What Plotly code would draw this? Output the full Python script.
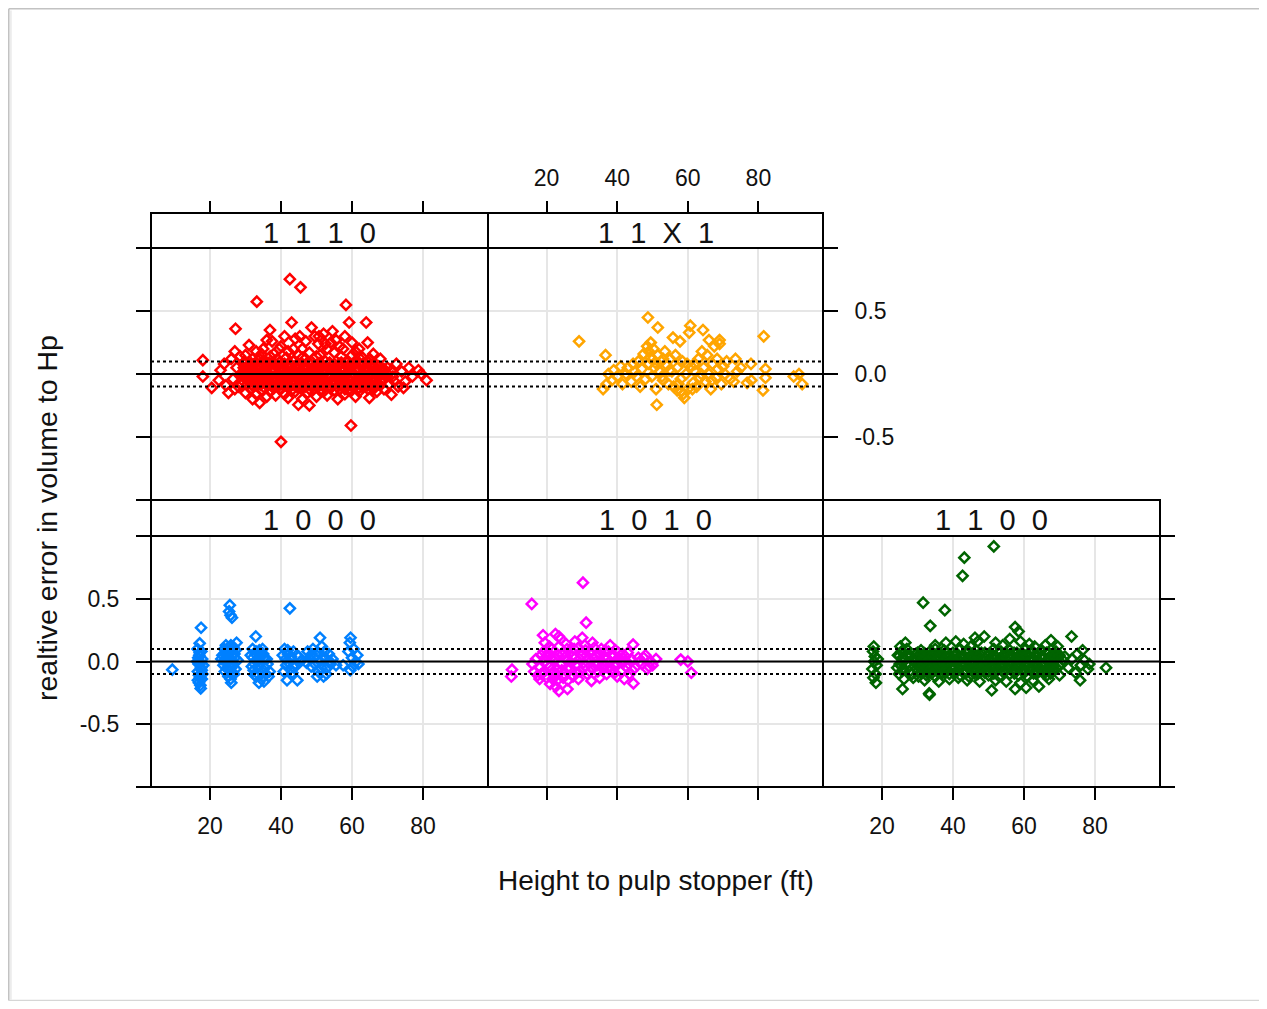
import plotly.graph_objects as go

# ---------------- data ----------------
X_TICKS = [20, 40, 60, 80]
Y_TICKS = [-1, -0.5, 0, 0.5, 1]
Y_TICK_TEXT = ["", "-0.5", "0.0", "0.5", ""]
X_TITLE = "Height to pulp stopper (ft)"
Y_TITLE = "realtive error in volume to Hp"
REF_LINES = [0.0]
BAND_LINES = [-0.1, 0.1]

PTS_1110 = [
    (18, 0.11), (18, -0.02), (20.5, -0.11), (23, 0.03), (22.5, -0.05), (24, 0.08), (25.2, -0.15),
    (24.5, -0.09), (26, 0.12), (27.2, 0.36), (26.5, -0.04), (27.5, 0.05), (28, -0.1), (28.5, 0.14),
    (29, -0.01), (29.5, 0.09),
    (31, 0.23), (33.2, 0.576), (36.9, 0.35), (33, 0.18), (35, 0.2), (38, 0.16), (40, 0.22), (41, 0.3),
    (42.5, 0.755), (45.5, 0.69), (43, 0.41), (44, 0.28), (46, 0.2), (47, 0.26), (48.6, 0.37),
    (49.5, 0.3), (50.5, 0.24), (52, 0.32), (53, 0.2), (54.5, 0.34), (55.5, 0.27), (56.5, 0.22),
    (58.3, 0.55), (59.2, 0.41), (58, 0.3), (60, 0.25), (61, 0.18), (62, 0.2), (64, 0.41), (64.4, 0.25),
    (66, 0.16), (68, 0.12), (37.5, 0.26), (39, 0.12), (42, 0.18), (45, 0.15), (51, 0.15), (57, 0.14),
    (63, 0.13), (34, 0.12), (36, 0.09),
    (30, 0.15), (32, 0.12), (34.5, 0.16), (37, 0.14), (39.5, 0.2), (41.5, 0.13), (43.5, 0.2),
    (46, 0.13), (48, 0.17), (50, 0.14), (52.5, 0.24), (55, 0.17), (57.5, 0.2), (60, 0.15),
    (62, 0.13), (65, 0.12), (27, 0.18), (36, 0.27), (45.3, 0.3), (50.7, 0.3), (54, 0.25),
    (40, -0.54), (59.7, -0.41), (44.9, -0.245), (48, -0.25), (34, -0.23), (30, -0.15), (32, -0.2),
    (36, -0.18), (38.5, -0.17), (42, -0.19), (46, -0.2), (50, -0.18), (53, -0.17), (56, -0.2),
    (58, -0.16), (61, -0.18), (64.9, -0.19), (67, -0.14), (71.1, -0.165), (69, -0.12), (73, -0.1),
    (27, -0.12), (29, -0.08), (33, -0.16), (37, -0.14), (41, -0.16), (44, -0.14), (47.5, -0.15),
    (52, -0.14), (55, -0.13), (58, -0.12), (62, -0.14), (66, -0.12), (68, -0.09), (70.5, -0.08),
    (70, 0.05), (71.5, -0.02), (72.5, 0.08), (74, 0.02), (75, -0.06), (76, 0.05), (77, -0.02),
    (78.7, 0.03), (81, -0.05), (79.5, 0.0), (74.5, -0.11), (72, -0.06),
    (30, 0.09), (32.5, 0.08), (35, 0.1), (37, 0.07), (39.5, 0.09), (41, 0.08), (43.5, 0.1), (46, 0.08),
    (48, 0.09), (50, 0.07), (52.5, 0.1), (55, 0.08), (57, 0.09), (59.5, 0.07), (61, 0.1), (63.5, 0.08),
    (66, 0.07),
    (31.6, 0.085), (34.3, 0.085), (36.7, 0.09), (38.1, 0.085), (42.3, 0.09), (44.8, 0.085),
    (47.6, 0.09), (50.6, 0.085), (53.7, 0.09), (56.7, 0.085), (58.6, 0.09), (62.2, 0.085), (64.7, 0.09),
    (31, 0.07), (33.8, 0.07), (36.2, 0.06), (38.8, 0.07), (40.2, 0.06), (42.8, 0.07), (45, 0.06),
    (47.2, 0.07), (49.5, 0.06), (51.8, 0.07), (54, 0.06), (56.2, 0.07), (58.7, 0.06), (60.5, 0.07),
    (62.8, 0.06), (65, 0.07), (67.5, 0.06),
    (29.5, 0.05), (31.5, 0.04), (33.5, 0.06), (36, 0.05), (38, 0.03), (40, 0.05), (42, 0.06),
    (44.5, 0.04), (46.5, 0.05), (49, 0.03), (51, 0.06), (53.5, 0.04), (55.5, 0.05), (58, 0.03),
    (60, 0.06), (62, 0.04), (64.5, 0.05), (67, 0.03), (69, 0.04),
    (30.8, 0.045), (33.1, 0.045), (35.6, 0.04), (37.9, 0.045), (40.6, 0.04), (42.4, 0.045),
    (44.9, 0.04), (47.4, 0.045), (49.7, 0.04), (52.2, 0.045), (54.6, 0.04), (56.9, 0.045),
    (59.3, 0.04), (61.4, 0.045), (63.2, 0.04), (65.8, 0.045), (68.3, 0.04),
    (30.2, 0.025), (32.8, 0.02), (34.8, 0.03), (37, 0.025), (39.7, 0.02), (41, 0.03), (43.8, 0.025),
    (45.9, 0.02), (48.2, 0.03), (50.5, 0.025), (52.8, 0.02), (54.9, 0.03), (57.3, 0.025), (59.1, 0.02),
    (61.7, 0.03), (63.9, 0.025), (66.1, 0.02), (68.5, 0.03), (71, 0.025),
    (29, 0.0), (31, 0.01), (33, -0.01), (35, 0.0), (37.5, 0.02), (39, -0.01), (41.5, 0.01), (43, 0.0),
    (45.5, -0.01), (47.5, 0.01), (50, 0.0), (52, 0.02), (54, -0.01), (56.5, 0.0), (58.5, 0.01),
    (61, -0.01), (63, 0.0), (65.5, 0.01), (68, -0.01), (70, 0.0),
    (30.1, -0.005), (32.4, -0.005), (34.6, -0.01), (36.9, -0.005), (39.6, -0.01), (41.9, -0.005),
    (44.2, -0.01), (46.4, -0.005), (48.6, -0.01), (51.1, -0.005), (53.4, -0.01), (55.6, -0.005),
    (57.9, -0.01), (60.3, -0.005), (62.6, -0.01), (64.9, -0.005), (67.4, -0.01), (69.1, -0.005),
    (29.8, -0.02), (32, -0.025), (34.3, -0.02), (36, -0.015), (38.2, -0.02), (40.5, -0.025),
    (42.2, -0.02), (44.3, -0.015), (46.8, -0.02), (48.8, -0.025), (51.2, -0.02), (53, -0.015),
    (55.3, -0.02), (57.8, -0.025), (59.6, -0.02), (62.2, -0.015), (64.7, -0.02), (67.2, -0.025),
    (69.7, -0.02),
    (30, -0.04), (32, -0.05), (34, -0.03), (36.5, -0.04), (38.5, -0.05), (40.5, -0.03), (42.5, -0.04),
    (45, -0.05), (47, -0.03), (49.5, -0.04), (51.5, -0.05), (53.5, -0.03), (56, -0.04), (57.5, -0.05),
    (60, -0.03), (62.5, -0.04), (64, -0.05), (66.5, -0.03), (69, -0.04),
    (31.3, -0.045), (33.4, -0.045), (35.2, -0.05), (37.8, -0.045), (39.9, -0.05), (41.6, -0.045),
    (44, -0.05), (46.2, -0.045), (48.3, -0.05), (50.8, -0.045), (52.6, -0.05), (55, -0.045),
    (57.1, -0.05), (59.4, -0.045), (61.6, -0.05), (63.8, -0.045), (65.9, -0.05), (68.4, -0.045),
    (31.2, -0.06), (33.6, -0.065), (35.9, -0.06), (38, -0.055), (40.8, -0.06), (43, -0.065),
    (45.4, -0.06), (47.6, -0.055), (49.8, -0.06), (52, -0.065), (54.4, -0.06), (56.7, -0.055),
    (58.4, -0.06), (60.7, -0.065), (62.9, -0.06), (65.7, -0.055), (68.2, -0.06),
    (30.5, -0.08), (33, -0.09), (35.5, -0.07), (37, -0.08), (39.5, -0.09), (41.5, -0.08), (44, -0.07),
    (46, -0.09), (48.5, -0.08), (50.5, -0.07), (52.5, -0.09), (55, -0.08), (57, -0.07), (59, -0.09),
    (61.5, -0.08), (63.5, -0.07), (65, -0.09), (67.5, -0.08),
    (31.9, -0.085), (34.2, -0.085), (36.4, -0.09), (38.7, -0.085), (40.7, -0.09), (43.4, -0.085),
    (45.7, -0.09), (47.9, -0.085), (50.1, -0.09), (52.3, -0.085), (54.7, -0.09), (56.9, -0.085),
    (59.7, -0.09), (62.4, -0.085), (64.3, -0.09), (66.7, -0.085),
    (32.2, -0.1), (35.2, -0.105), (37.5, -0.1), (39.2, -0.095), (41.8, -0.1), (44.6, -0.105),
    (46.8, -0.1), (49.2, -0.095), (52, -0.1), (53.8, -0.105), (55.8, -0.1), (58, -0.095),
    (60.3, -0.1), (63, -0.105), (66, -0.1),
    (31.5, -0.12), (34.5, -0.13), (38, -0.11), (40, -0.12), (43, -0.13), (45.5, -0.11), (48, -0.12),
    (51, -0.13), (54, -0.11), (56.5, -0.12), (59, -0.13), (62, -0.11), (64.5, -0.12),
]

PTS_11X1 = [
    (29.2, 0.26), (36.7, 0.15), (36, -0.12), (37, -0.08), (37.5, 0.0), (38.5, -0.05), (39, 0.03),
    (40, -0.02), (41, 0.06), (41.5, -0.08), (42.5, 0.0), (43, 0.05), (44, -0.06), (44.5, 0.08),
    (45.5, -0.02), (46, 0.1), (46.5, -0.1), (47, 0.04), (47.5, 0.16), (48, -0.04), (48.7, 0.45),
    (48.5, 0.22), (49, 0.18), (49, 0.08), (49.5, 0.25), (49.8, -0.02), (50, 0.12), (50.3, 0.2),
    (50.5, 0.05), (51, -0.12), (51.2, -0.245), (51.5, 0.37), (51.5, 0.15), (52, 0.02), (52.5, 0.1),
    (53, -0.05), (53.5, 0.18), (54, 0.07), (54.5, -0.08), (55, 0.12), (55.5, 0.02), (55.8, 0.29),
    (56, -0.1), (56.5, 0.15), (57, 0.05), (57.8, 0.26), (58, -0.04), (58.5, 0.1), (58.7, -0.16),
    (59, -0.19), (59.5, 0.0), (60, -0.12), (60.4, 0.33), (60.7, 0.385), (61, 0.06), (61.5, -0.07),
    (62, 0.02), (62.5, -0.1), (63, 0.12), (63.5, -0.03), (64, 0.18), (64.3, 0.35), (64.5, 0.05),
    (65, -0.06), (65.5, 0.15), (66, 0.27), (66, 0.0), (66.5, -0.12), (67, 0.08), (67.5, 0.22),
    (68, -0.03), (68.5, 0.04), (69, 0.27), (69, 0.24), (69.5, -0.08), (70, 0.06), (70.5, 0.0),
    (71, 0.1), (72, -0.04), (73, -0.06), (73.5, 0.12), (74, 0.02), (75, 0.05), (76.8, -0.07),
    (77.9, 0.08), (78, -0.05), (81.3, -0.13), (81.5, 0.3), (82, 0.04), (82, -0.03), (90, -0.02),
    (91.5, 0.0), (92.4, -0.08), (62, 0.08), (57, -0.13), (53, 0.12), (45, 0.02),
    (49.3, 0.13), (50.8, 0.09), (52.7, -0.02), (54.8, 0.03), (57.3, -0.08), (59.8, 0.08),
    (61.3, -0.12), (63.8, 0.0), (66.8, -0.05), (68.3, 0.12), (58.2, -0.14),
]

PTS_1000 = [
    (9.4, -0.065), (17.5, 0.27), (17.1, 0.145), (17.4, -0.215), (16.5, 0.1), (17, 0.05), (17.8, 0.02),
    (16.8, -0.02), (17.5, -0.05), (16.6, -0.08), (17.9, -0.1), (17.2, -0.13), (16.9, -0.17),
    (17.6, 0.08), (18.1, -0.03), (17.3, -0.19), (16.4, 0.0), (17.7, -0.14),
    (16.7, 0.03), (17.4, -0.01), (16.9, -0.11), (17.7, -0.07), (17.1, 0.07), (16.6, -0.15),
    (25.6, 0.45), (25.4, 0.4), (25.8, 0.37), (26.2, 0.35), (23.5, 0.05), (24, 0.1), (24.5, 0.13),
    (25, 0.0), (25.5, 0.08), (26, -0.05), (26.5, 0.12), (27, 0.03), (27.5, 0.15), (24.2, -0.08),
    (25.2, -0.12), (26, -0.17), (25.8, -0.14), (24.8, 0.04), (23.8, -0.03), (26.8, -0.1),
    (27.2, -0.06), (25.3, 0.06), (24.6, -0.01), (26.3, 0.09), (27.8, 0.01), (23.2, 0.02),
    (24.3, 0.07), (25.1, 0.11), (25.9, 0.02), (26.6, -0.02), (24.9, -0.05), (25.6, -0.08),
    (26.4, 0.05), (27.3, 0.09), (24.1, 0.01), (25.4, -0.03), (26.9, 0.06), (25.9, 0.13),
    (26.1, -0.1), (24.6, 0.09),
    (32.9, 0.2), (31.5, 0.05), (32, 0.1), (32.5, -0.02), (33, 0.08), (33.5, -0.1), (34, 0.03),
    (34.5, -0.14), (35, 0.06), (35.5, -0.05), (36, 0.02), (36.5, -0.12), (33.8, -0.17), (32.3, -0.07),
    (34.8, 0.1), (31.8, -0.04), (33.3, 0.0), (36.8, -0.08), (35.2, -0.16), (34.2, 0.07),
    (32.1, 0.03), (32.8, 0.06), (33.6, -0.04), (34.4, -0.01), (35.3, 0.02), (33.1, -0.12),
    (34.6, -0.08), (35.8, -0.1), (33.9, 0.09), (32.6, -0.11), (36.2, -0.02), (34.9, -0.12),
    (42.5, 0.425), (40.5, 0.05), (41, 0.1), (41.5, -0.03), (42, 0.06), (42.5, -0.06), (43, 0.02),
    (43.5, 0.08), (44, -0.02), (44.6, -0.15), (41.7, -0.15), (45, 0.04), (40.8, -0.08), (43.7, -0.05),
    (45.5, 0.0), (41.3, 0.02), (42.2, -0.01), (43.2, -0.09), (41.9, 0.09), (44.4, 0.05), (42.8, 0.04),
    (51, 0.19), (47.5, 0.08), (48, 0.03), (48.5, -0.04), (49, 0.1), (49.5, -0.02), (50, 0.05),
    (50.5, -0.08), (51, 0.0), (51.5, 0.12), (52, -0.12), (52.5, 0.03), (53, -0.05), (53.5, 0.06),
    (54, -0.02), (54.5, 0.02), (55.5, -0.03), (50.2, -0.12), (52.8, -0.1), (47.2, -0.01),
    (49.2, 0.03), (50.6, 0.07), (51.3, -0.05), (52.3, 0.08), (53.8, 0.0), (48.7, 0.06), (51.8, 0.04),
    (59.6, 0.19), (59.4, 0.15), (61.5, 0.05), (59.5, -0.07), (61, -0.005), (57.5, -0.03), (60, 0.03),
    (60.5, 0.1), (59, 0.08), (60.2, -0.04), (61.8, -0.02),
]

PTS_1010 = [
    (30.3, 0.63), (15.8, 0.46), (31.2, 0.31), (19, 0.21), (22.5, 0.22), (23.5, 0.2), (30.1, 0.19),
    (20.8, 0.12), (44.5, 0.135), (10.2, -0.065), (10, -0.12), (58, 0.015), (60, 0.0), (61, -0.09),
    (23.5, -0.235), (25.9, -0.22), (22.6, -0.2), (44.6, -0.175), (42, -0.14), (32.7, -0.155),
    (16, -0.02), (16.5, -0.08), (17, 0.02), (17.5, -0.11), (18, -0.05), (18.5, 0.05), (19, -0.09),
    (19.5, 0.0), (20, -0.13), (20.5, 0.07), (21, -0.04), (21.5, 0.1), (22, -0.08), (22.5, 0.02),
    (23, -0.15), (23.5, 0.12), (24, -0.02), (24.5, 0.06), (25, -0.1), (25.5, 0.14), (26, 0.01),
    (26.5, -0.06), (27, 0.08), (27.5, -0.12), (28, 0.03), (28.5, -0.03), (29, 0.11), (29.5, -0.08),
    (30, 0.05), (30.5, -0.01), (31, 0.09), (31.5, -0.1), (32, 0.02), (32.5, 0.07), (33, -0.05),
    (33.5, 0.11), (34, 0.0), (34.5, -0.08), (35, 0.06), (35.5, 0.1), (36, -0.03), (36.5, 0.04),
    (37, -0.1), (37.5, 0.08), (38, 0.0), (38.5, -0.06), (39, 0.05), (39.5, 0.09), (40, -0.02),
    (40.5, 0.03), (41, -0.08), (41.5, 0.06), (42, 0.0), (42.5, -0.04), (43, 0.07), (43.5, -0.1),
    (44, 0.02), (45, -0.05), (46, 0.03), (47, -0.02), (48, 0.05), (48.5, -0.06), (49.5, 0.0),
    (50, -0.03), (51, 0.02), (19.5, 0.15), (24, 0.18), (28, 0.16), (33, 0.15), (38, 0.13),
    (26, -0.15), (29, -0.14), (35, -0.13), (40, -0.12), (21, -0.18), (18, -0.14), (22, 0.0),
    (25, 0.03), (27, -0.01), (31, -0.04), (34, 0.04), (37, 0.02), (20, 0.04), (23, -0.06),
    (36, -0.06), (39, -0.03),
    (20.2, -0.02), (21.3, 0.03), (22.3, -0.11), (23.3, 0.05), (24.3, -0.07), (25.3, 0.07),
    (26.3, -0.04), (27.3, 0.04), (28.3, -0.09), (29.3, 0.02), (30.3, -0.05), (31.3, 0.05),
    (32.3, -0.08), (33.3, 0.03), (34.3, -0.03), (35.3, 0.01), (36.3, 0.08), (37.3, -0.05),
    (38.3, 0.05), (39.3, -0.09), (40.3, 0.07), (41.3, 0.0), (42.3, 0.04), (43.3, -0.02),
    (44.3, -0.07), (46.5, 0.0), (47.5, 0.03), (49, -0.04), (18.5, -0.1), (19.2, 0.08),
    (21.7, -0.14), (24.7, -0.13), (27.8, 0.1), (30.8, 0.13), (25.8, 0.1),
]

PTS_1100 = [
    (51.5, 0.92), (43.2, 0.83), (42.7, 0.685), (31.6, 0.47), (37.7, 0.41), (33.6, 0.285), (57.5, 0.275),
    (73.4, 0.2), (58.5, 0.24), (48.8, 0.2), (46.2, 0.19), (40.8, 0.16), (67.6, 0.17), (26.6, 0.15),
    (17.7, 0.12), (18.3, -0.17), (25.8, -0.22), (33.3, -0.255), (33.4, -0.265), (50.9, -0.23),
    (57.5, -0.22), (60.6, -0.21), (64.2, -0.2), (75.8, -0.15), (83.1, -0.05), (78.4, -0.02),
    (41.5, -0.13), (30.3, -0.12),
    (17.5, 0.08), (18, 0.04), (17.8, 0.0), (18.5, -0.03), (17.3, -0.06), (18.2, -0.1), (18.8, 0.02),
    (17.6, -0.13),
    (24.5, 0.05), (25, -0.02), (25.5, 0.08), (26, -0.06), (26.5, 0.02), (27, 0.1), (27.5, -0.04),
    (28, 0.04), (28.5, -0.1), (29, 0.0), (29.5, 0.06), (24.8, -0.1), (26.2, -0.14), (27.8, -0.08),
    (25.2, 0.12), (28.8, -0.13), (25.8, 0.03), (26.8, -0.02), (27.3, 0.06), (24.3, -0.05),
    (31, 0.09), (33.5, 0.08), (35, 0.1), (37.5, 0.09), (40, 0.07), (42, 0.1), (44.5, 0.08),
    (46.5, 0.09), (49, 0.07), (51.5, 0.1), (53.5, 0.08), (56, 0.09), (58, 0.07), (60.5, 0.1),
    (62.5, 0.08), (65, 0.09), (67, 0.07), (69, 0.08),
    (30, 0.07), (32, 0.065), (34.2, 0.07), (36.5, 0.065), (38.5, 0.07), (41, 0.065), (43.5, 0.07),
    (45.8, 0.065), (48, 0.07), (50.5, 0.065), (52.8, 0.07), (55, 0.065), (57.2, 0.07), (59.5, 0.065),
    (61.8, 0.07), (64, 0.065), (66.3, 0.07), (68.5, 0.065),
    (30.5, 0.05), (32.5, 0.04), (34.5, 0.06), (36.5, 0.05), (39, 0.04), (41, 0.06), (43, 0.05),
    (45, 0.04), (47.5, 0.06), (50, 0.05), (52, 0.04), (54.5, 0.06), (56.5, 0.05), (59, 0.04),
    (61, 0.06), (63.5, 0.05), (65.5, 0.04), (68, 0.06), (70, 0.05),
    (24.9, 0.045), (26.9, 0.045), (31.4, 0.045), (33.4, 0.04), (35.8, 0.045), (37.9, 0.04),
    (40.4, 0.045), (42.6, 0.04), (44.9, 0.045), (47.1, 0.04), (49.6, 0.045), (51.8, 0.04),
    (54, 0.045), (56.1, 0.04), (58.4, 0.045), (60.8, 0.04), (63, 0.045), (65.3, 0.04), (67.6, 0.045),
    (69.8, 0.04),
    (29.5, 0.03), (31.5, 0.025), (33.8, 0.03), (36, 0.025), (38, 0.03), (40, 0.025), (42.3, 0.03),
    (44.6, 0.025), (46.7, 0.03), (49, 0.025), (51, 0.03), (53.3, 0.025), (55.6, 0.03), (57.8, 0.025),
    (60, 0.03), (62.5, 0.025), (64.8, 0.03), (67, 0.025), (69.5, 0.03),
    (31, 0.01), (33, 0.0), (35.5, 0.02), (37.5, 0.01), (39.5, 0.0), (41.5, 0.02), (44, 0.01),
    (46, 0.0), (48, 0.02), (50.5, 0.01), (52.5, 0.0), (55, 0.02), (57.5, 0.01), (59.5, 0.0),
    (62, 0.02), (64, 0.01), (66.5, 0.0), (69, 0.02), (71, 0.01),
    (30.3, -0.01), (32.3, -0.015), (34.5, -0.01), (36.8, -0.015), (39, -0.01), (41, -0.015),
    (43.2, -0.01), (45.5, -0.015), (47.8, -0.01), (50, -0.015), (52.3, -0.01), (54.2, -0.015),
    (56.8, -0.01), (58.8, -0.015), (61, -0.01), (63.3, -0.015), (65.8, -0.01), (68, -0.015),
    (30, -0.03), (32, -0.02), (34, -0.04), (36, -0.03), (38.5, -0.02), (40.5, -0.04), (42.5, -0.03),
    (45, -0.02), (47, -0.04), (49.5, -0.03), (51.5, -0.02), (53.5, -0.04), (56, -0.03), (58, -0.02),
    (60.5, -0.04), (63, -0.03), (65, -0.02), (67.5, -0.04), (70, -0.03),
    (25.4, -0.035), (27.6, -0.035), (31.2, -0.035), (33.6, -0.03), (35.6, -0.035), (37.8, -0.03),
    (40, -0.035), (42.1, -0.03), (44.6, -0.035), (46.9, -0.03), (49, -0.035), (51.3, -0.03),
    (53.7, -0.035), (55.9, -0.03), (58.3, -0.035), (60.9, -0.03), (63.6, -0.035), (65.6, -0.03),
    (68.2, -0.035),
    (30.8, -0.05), (33, -0.055), (35, -0.05), (37.3, -0.055), (39.5, -0.05), (41.8, -0.055),
    (44.2, -0.05), (46.5, -0.055), (48.8, -0.05), (51, -0.055), (53.5, -0.05), (55.8, -0.055),
    (58, -0.05), (60, -0.055), (62.3, -0.05), (64.5, -0.055), (67, -0.05), (69.3, -0.055),
    (31.5, -0.07), (33.5, -0.06), (36, -0.08), (38, -0.07), (40, -0.06), (43, -0.08), (45.5, -0.07),
    (48, -0.06), (50, -0.08), (52.5, -0.07), (55, -0.06), (57, -0.08), (59.5, -0.07), (61.5, -0.06),
    (64, -0.08), (66, -0.07), (68.5, -0.06),
    (25.7, -0.075), (30.2, -0.075), (32.9, -0.08), (35.4, -0.075), (37.6, -0.08), (41.2, -0.075),
    (44, -0.08), (46.8, -0.075), (49.4, -0.08), (51.8, -0.075), (54.6, -0.08), (57.6, -0.075),
    (60.4, -0.08), (63.2, -0.075), (65.6, -0.08), (68, -0.075),
    (31, -0.09), (34, -0.095), (37, -0.09), (40.5, -0.095), (43.5, -0.09), (46, -0.095), (49, -0.09),
    (51.5, -0.095), (54.3, -0.09), (57.3, -0.095), (60, -0.09), (62.7, -0.095), (65.3, -0.09),
    (67.5, -0.095),
    (32.5, -0.11), (35, -0.12), (39, -0.1), (42, -0.11), (44.5, -0.12), (47, -0.1), (50, -0.11),
    (53, -0.12), (56, -0.1), (58.5, -0.11), (61, -0.12), (63.5, -0.1), (66.5, -0.11),
    (71.5, 0.04), (72.5, -0.05), (73.5, 0.02), (74.5, -0.09), (75, 0.06), (76, -0.03), (77, 0.01),
    (78, -0.06), (76.5, 0.09),
    (35, 0.13), (38, 0.15), (43, 0.14), (45, 0.12), (52, 0.15), (54, 0.13), (59, 0.16), (61.5, 0.14),
    (63, 0.12), (66, 0.13), (69.5, 0.12), (47, 0.16), (56, 0.18),
    (32, -0.15), (36, -0.16), (39, -0.14), (44, -0.15), (47.5, -0.16), (52, -0.15), (55, -0.16),
    (59, -0.17), (62.5, -0.15), (67, -0.14), (70, -0.11),
]

STRIP_LABELS = ["1  1  1  0", "1  1  X  1", "1  0  0  0", "1  0  1  0", "1  1  0  0"]
COLORS = ["#ff0000", "#ffa500", "#0080ff", "#ff00ff", "#006400"]
SERIES = [PTS_1110, PTS_11X1, PTS_1000, PTS_1010, PTS_1100]

# ---------------- layout geometry (screen pixels) ----------------
OFF = 8                   # the page body offsets the figure by 8 px
FW, FH = 1251, 993
FONT = "Liberation Sans, Arial, sans-serif"


def fx(p):
    return (p - OFF) / FW


def fy(p):
    return 1 - (p - OFF) / FH


COLS = [(151, 488), (488, 823), (823, 1160)]
ROWS = [(248, 500, 213), (536, 787, 500)]  # plot top, plot bottom, strip top

PANELS = [
    dict(col=0, row=0, xside="top", xlab=False, yside="left", yticks=True, ylab=False),
    dict(col=1, row=0, xside="top", xlab=True, yside="right", yticks=True, ylab=True),
    dict(col=0, row=1, xside="bottom", xlab=True, yside="left", yticks=True, ylab=True),
    dict(col=1, row=1, xside="bottom", xlab=False, yside="left", yticks=False, ylab=False),
    dict(col=2, row=1, xside="bottom", xlab=True, yside="right", yticks=True, ylab=False),
]

fig = go.Figure()
shapes = []
annotations = []
layout_axes = {}

# page frame (top, left and bottom edges only)
FRAME = dict(color="#c2c2c2", width=1.6)
shapes.append(dict(type="line", xref="paper", yref="paper", x0=fx(8.8), x1=fx(1259),
                   y0=fy(8.8), y1=fy(8.8), line=FRAME, layer="below"))
shapes.append(dict(type="line", xref="paper", yref="paper", x0=fx(8.8), x1=fx(8.8),
                   y0=fy(1000.5), y1=fy(8.8), line=FRAME, layer="below"))
shapes.append(dict(type="line", xref="paper", yref="paper", x0=fx(8.8), x1=fx(1259),
                   y0=fy(1000.5), y1=fy(1000.5), line=dict(color="#d6d6d6", width=1.6), layer="below"))
shapes.append(dict(type="line", xref="paper", yref="paper", x0=fx(10.8), x1=fx(10.8),
                   y0=fy(1000), y1=fy(10.5), line=dict(color="#ececec", width=2), layer="below"))

for i, (p, pts, color, lab) in enumerate(zip(PANELS, SERIES, COLORS, STRIP_LABELS)):
    n = i + 1
    xs = [a for a, b in pts]
    ys = [b for a, b in pts]
    xname = "x" if n == 1 else f"x{n}"
    yname = "y" if n == 1 else f"y{n}"
    fig.add_trace(go.Scatter(
        x=xs, y=ys, mode="markers", xaxis=xname, yaxis=yname, showlegend=False,
        marker=dict(symbol="diamond-open", size=7.8, color=color, line=dict(width=2.5, color=color)),
    ))
    c0, c1 = COLS[p["col"]]
    r_top, r_bot, s_top = ROWS[p["row"]]

    xa = dict(
        domain=[fx(c0), fx(c1)], range=[3.4, 98.3], tickvals=X_TICKS,
        ticks="outside", ticklen=12, tickwidth=2, tickcolor="#000",
        showticklabels=p["xlab"], tickfont=dict(family=FONT, size=23, color="#111"),
        showgrid=True, gridcolor="#e6e6e6", gridwidth=1.5, zeroline=False, showline=False,
        side=p["xside"], automargin=False, ticklabelstandoff=6,
    )
    if p["xside"] == "top":
        xa.update(anchor="free", position=fy(s_top))
    else:
        xa.update(anchor=yname)
    ya = dict(
        domain=[fy(r_bot), fy(r_top)], range=[-1.003, 1.003], tickvals=Y_TICKS, ticktext=Y_TICK_TEXT,
        ticks="outside" if p["yticks"] else "", ticklen=14, tickwidth=2, tickcolor="#000",
        showticklabels=p["ylab"], tickfont=dict(family=FONT, size=23, color="#111"),
        showgrid=True, gridcolor="#e6e6e6", gridwidth=1.5, zeroline=False, showline=False,
        side=p["yside"], anchor=xname, automargin=False, ticklabelstandoff=12,
    )
    layout_axes["xaxis" if n == 1 else f"xaxis{n}"] = xa
    layout_axes["yaxis" if n == 1 else f"yaxis{n}"] = ya

    for v in REF_LINES:
        shapes.append(dict(type="line", xref=f"{xname} domain", yref=yname, x0=0, x1=1, y0=v, y1=v,
                           line=dict(color="#000", width=1.8)))
    for v in BAND_LINES:
        shapes.append(dict(type="line", xref=f"{xname} domain", yref=yname, x0=0, x1=1, y0=v, y1=v,
                           line=dict(color="#000", width=2, dash="dot")))
    shapes.append(dict(type="rect", xref="paper", yref="paper", x0=fx(c0), x1=fx(c1),
                       y0=fy(r_bot), y1=fy(r_top), line=dict(color="#000", width=2)))
    shapes.append(dict(type="rect", xref="paper", yref="paper", x0=fx(c0), x1=fx(c1),
                       y0=fy(r_top), y1=fy(s_top), line=dict(color="#000", width=2)))
    annotations.append(dict(
        text=lab.replace(" ", "\u00a0"), xref="paper", yref="paper",
        x=(fx(c0) + fx(c1)) / 2, y=fy((r_top + s_top) / 2 + 2), showarrow=False,
        xanchor="center", yanchor="middle", font=dict(family=FONT, size=29, color="#111"),
    ))

annotations.append(dict(text=X_TITLE, xref="paper", yref="paper", x=fx(656), y=fy(880),
                        showarrow=False, xanchor="center", yanchor="middle",
                        font=dict(family=FONT, size=28, color="#111")))
annotations.append(dict(text=Y_TITLE, xref="paper", yref="paper", x=fx(47), y=fy(518),
                        showarrow=False, xanchor="center", yanchor="middle", textangle=-90,
                        font=dict(family=FONT, size=28.5, color="#111")))

fig.update_layout(
    width=FW, height=FH, margin=dict(l=0, r=0, t=0, b=0),
    paper_bgcolor="#ffffff", plot_bgcolor="rgba(0,0,0,0)",
    shapes=shapes, annotations=annotations, showlegend=False,
    **layout_axes,
)

fig.write_html("out.html")
